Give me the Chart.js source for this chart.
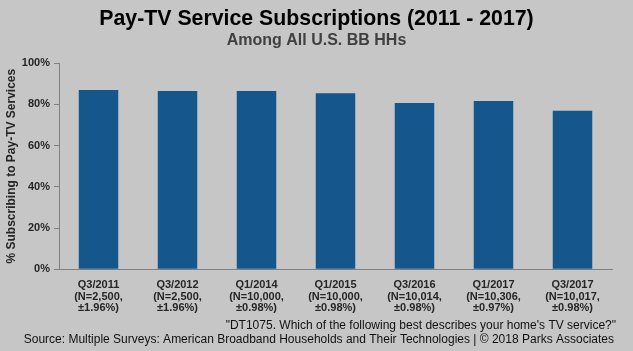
<!DOCTYPE html>
<html>
<head>
<meta charset="utf-8">
<script src="https://cdn.jsdelivr.net/npm/chart.js@4"></script>
<style>
  html, body { margin: 0; padding: 0; background: #c6c6c6; }
  #wrap { width: 633px; height: 351px; position: relative; }
</style>
</head>
<body>
<div id="wrap"><canvas id="c" width="633" height="351"></canvas></div>
<script>
const categories = [
  ["Q3/2011", "(N=2,500,", "±1.96%)"],
  ["Q3/2012", "(N=2,500,", "±1.96%)"],
  ["Q1/2014", "(N=10,000,", "±0.98%)"],
  ["Q1/2015", "(N=10,000,", "±0.98%)"],
  ["Q3/2016", "(N=10,014,", "±0.98%)"],
  ["Q1/2017", "(N=10,306,", "±0.97%)"],
  ["Q3/2017", "(N=10,017,", "±0.98%)"]
];
const subscribingPct = [86.9, 86.4, 86.4, 85.4, 80.6, 81.6, 76.8];
const yTicks = [0, 20, 40, 60, 80, 100];
const titleText = "Pay-TV Service Subscriptions (2011 - 2017)";
const subtitleText = "Among All U.S. BB HHs";
const yAxisTitle = "% Subscribing to Pay-TV Services";
const footerLines = [
  "\"DT1075. Which of the following best describes your home's TV service?\"",
  "Source: Multiple Surveys: American Broadband Households and Their Technologies | © 2018 Parks Associates"
];

const bgPlugin = {
  id: 'bg',
  beforeDraw(chart) {
    const ctx = chart.ctx;
    ctx.save();
    ctx.fillStyle = '#c6c6c6';
    ctx.fillRect(0, 0, chart.width, chart.height);
    ctx.restore();
  }
};
const textPlugin = {
  id: 'texts',
  afterDraw(chart) {
    const ctx = chart.ctx;
    ctx.save();
    ctx.textAlign = 'center';
    ctx.textBaseline = 'middle';
    ctx.fillStyle = '#000';
    ctx.font = 'bold 21.3px "Liberation Sans", Arial, sans-serif';
    ctx.fillText(titleText, 316.5, 19);
    ctx.fillStyle = '#404040';
    ctx.font = 'bold 16px "Liberation Sans", Arial, sans-serif';
    ctx.fillText(subtitleText, 316.5, 41);
    ctx.fillStyle = '#111';
    ctx.font = '12px "Liberation Sans", Arial, sans-serif';
    ctx.textAlign = 'right';
    ctx.fillText(footerLines[0], 616, 326);
    ctx.fillText(footerLines[1], 614, 340);
    ctx.restore();
  }
};

new Chart(document.getElementById('c'), {
  type: 'bar',
  data: {
    labels: categories,
    datasets: [{
      data: subscribingPct,
      backgroundColor: '#15578d',
      borderWidth: 0,
      barPercentage: 0.5,
      categoryPercentage: 1.0
    }]
  },
  options: {
    responsive: false,
    animation: false,
    devicePixelRatio: 1,
    layout: { padding: { top: 63, left: 0, right: 21, bottom: 27 } },
    plugins: {
      legend: { display: false },
      tooltip: { enabled: false },
      title: { display: false },
      subtitle: { display: false }
    },
    scales: {
      y: {
        min: 0, max: 100,
        afterBuildTicks(scale) { scale.ticks = yTicks.map(v => ({ value: v })); },
        afterFit(scale) { scale.width = 59; },
        ticks: {
          color: '#262626',
          padding: 4,
          font: { family: '"Liberation Sans", Arial', size: 11, weight: 'bold' },
          callback: v => v + '%'
        },
        grid: { drawOnChartArea: false, drawTicks: true, tickLength: 5, color: '#808080', lineWidth: 1 },
        border: { display: true, color: '#808080', width: 1 },
        title: {
          display: true,
          text: yAxisTitle,
          color: '#262626',
          font: { family: '"Liberation Sans", Arial', size: 12, weight: 'bold' },
          padding: { top: 4, bottom: 0 }
        }
      },
      x: {
        ticks: {
          color: '#262626',
          padding: 10,
          maxRotation: 0,
          autoSkip: false,
          font: { family: '"Liberation Sans", Arial', size: 11, weight: 'bold', lineHeight: 1.05 }
        },
        grid: { display: false, drawTicks: false },
        border: { display: true, color: '#808080', width: 1 }
      }
    }
  },
  plugins: [bgPlugin, textPlugin]
});
</script>
</body>
</html>
